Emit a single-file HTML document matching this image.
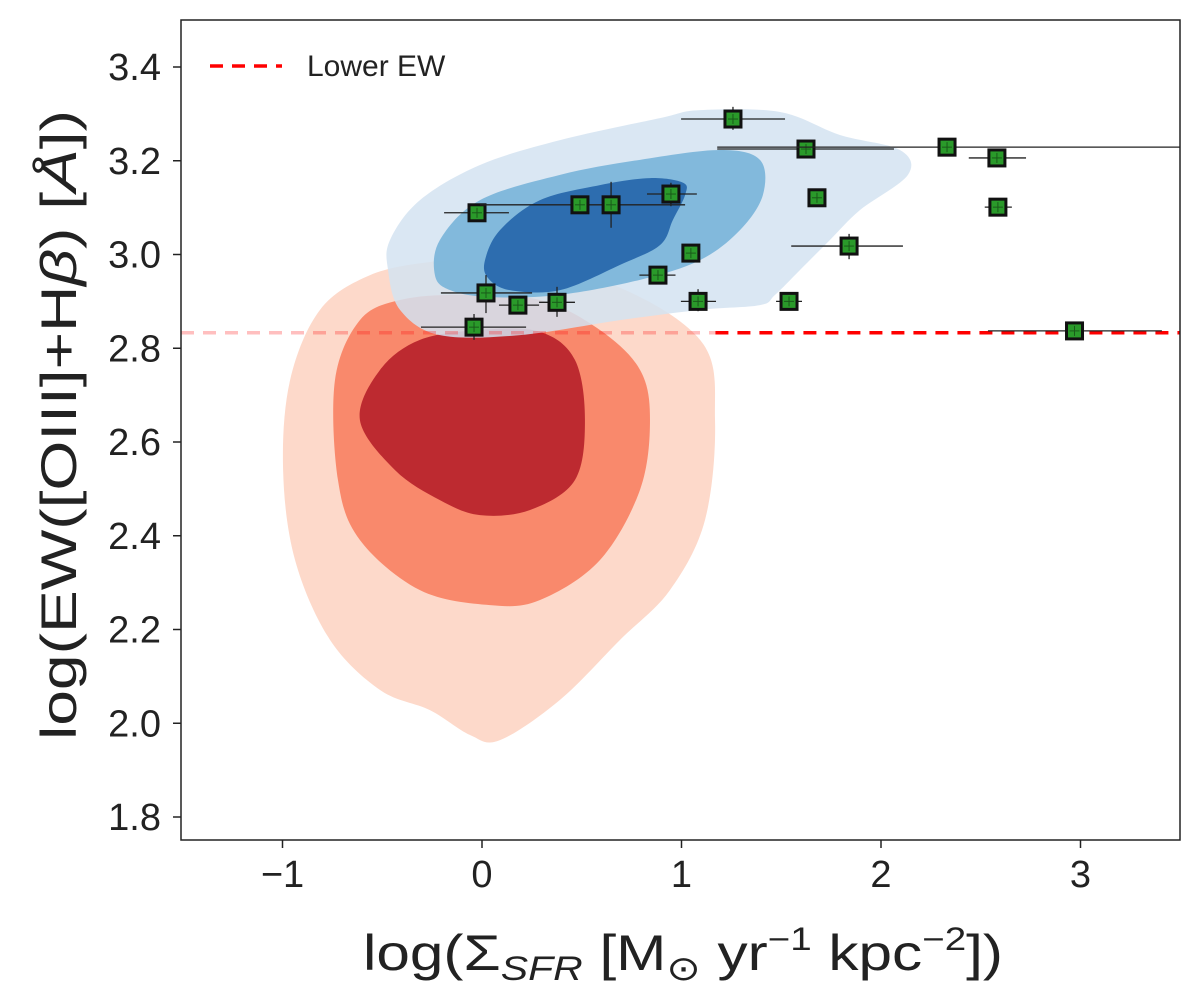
<!DOCTYPE html>
<html><head><meta charset="utf-8"><style>
body{margin:0;background:#fff;}
svg text{font-family:"Liberation Sans",sans-serif;fill:#222;}
</style></head><body>
<svg id="chart" width="1200" height="997" viewBox="0 0 1200 997" xmlns="http://www.w3.org/2000/svg" style="position:absolute;left:0;top:0">
<g id="contours"></g>
<g id="points"></g>
<g id="axes"></g>
</svg>
<script>
const xTicks=[-1,0,1,2,3];
const xTickLabels=["\u22121","0","1","2","3"];
const yTicks=[1.8,2.0,2.2,2.4,2.6,2.8,3.0,3.2,3.4];
const yTickLabels=["1.8","2.0","2.2","2.4","2.6","2.8","3.0","3.2","3.4"];
const ptX=[-0.025,0.491,0.647,0.947,1.047,0.882,1.083,0.02,0.18,0.376,-0.04,1.258,1.624,2.331,2.581,1.679,2.586,1.84,1.539,2.97];
const ptY=[3.089,3.106,3.106,3.129,3.003,2.956,2.9,2.918,2.892,2.898,2.845,3.289,3.225,3.229,3.206,3.121,3.101,3.018,2.9,2.837];
const ptXlo=[-0.19,-0.01,null,0.827,null,0.789,0.997,-0.206,0.085,0.286,-0.306,0.998,1.179,1.179,2.44,null,2.52,1.55,1.474,2.536];
const ptXhi=[0.135,1.018,null,1.077,null,0.97,1.173,0.251,0.286,0.466,0.221,1.519,2.065,3.5,2.727,null,2.656,2.11,1.604,3.408];
const ptYlo=[3.076,null,3.057,3.103,null,null,2.879,2.875,null,2.867,2.818,3.266,null,null,null,null,null,2.99,null,null];
const ptYhi=[3.102,null,3.155,3.153,null,null,2.926,2.956,null,2.931,2.873,3.315,null,null,null,null,null,3.044,null,null];
const lowerEW=2.833;
const redOuter=[[-0.962,2.732],[-0.812,2.882],[-0.561,2.956],[-0.261,2.984],[-0.01,2.984],[0.591,2.946],[1.093,2.818],[1.168,2.647],[1.118,2.434],[0.942,2.284],[0.692,2.178],[0.391,2.05],[0.09,1.964],[-0.06,1.975],[-0.261,2.028],[-0.511,2.071],[-0.762,2.178],[-0.937,2.348],[-0.997,2.54]];
const redMid=[[-0.737,2.732],[-0.612,2.86],[-0.411,2.903],[-0.11,2.914],[0.291,2.903],[0.591,2.839],[0.792,2.754],[0.842,2.647],[0.792,2.498],[0.591,2.348],[0.291,2.263],[0.04,2.252],[-0.311,2.284],[-0.612,2.391],[-0.722,2.519]];
const redInner=[[-0.612,2.647],[-0.511,2.754],[-0.311,2.818],[-0.01,2.839],[0.291,2.835],[0.466,2.775],[0.516,2.647],[0.466,2.519],[0.241,2.455],[-0.01,2.444],[-0.211,2.476],[-0.436,2.54]];
const blueLight=[[-0.461,3.031],[-0.311,3.116],[-0.01,3.191],[0.391,3.244],[0.892,3.291],[1.093,3.308],[1.494,3.304],[1.794,3.255],[2.095,3.223],[2.135,3.17],[1.895,3.095],[1.744,3.031],[1.594,2.967],[1.469,2.914],[1.393,2.892],[1.093,2.882],[0.692,2.86],[0.19,2.828],[-0.211,2.828],[-0.411,2.882],[-0.471,2.967]];
const blueMid=[[-0.236,2.956],[-0.211,3.031],[-0.01,3.116],[0.391,3.17],[0.792,3.202],[1.193,3.223],[1.393,3.202],[1.408,3.127],[1.293,3.052],[1.093,2.988],[0.792,2.946],[0.391,2.914],[0.04,2.909],[-0.16,2.924]];
const blueInner=[[0.015,2.988],[0.09,3.052],[0.291,3.116],[0.591,3.148],[0.842,3.163],[1.008,3.153],[1.018,3.127],[0.957,3.074],[0.892,3.02],[0.692,2.978],[0.391,2.924],[0.14,2.924],[0.03,2.95]];

const X0=181,X1=1180,Y0=20,Y1=840;
const sx=v=>482+(v)*199.5;
const sy=v=>67+(3.4-v)*468.75;
const NS="http://www.w3.org/2000/svg";
function mk(tag,attrs,parent){const e=document.createElementNS(NS,tag);for(const k in attrs)e.setAttribute(k,attrs[k]);parent.appendChild(e);return e;}
function smooth(pts){const p=pts.map(a=>[sx(a[0]),sy(a[1])]);const n=p.length;let d=`M${p[0][0]},${p[0][1]}`;
for(let i=0;i<n;i++){const p0=p[(i-1+n)%n],p1=p[i],p2=p[(i+1)%n],p3=p[(i+2)%n];
const c1=[p1[0]+(p2[0]-p0[0])/6,p1[1]+(p2[1]-p0[1])/6],c2=[p2[0]-(p3[0]-p1[0])/6,p2[1]-(p3[1]-p1[1])/6];
d+=`C${c1[0]},${c1[1]} ${c2[0]},${c2[1]} ${p2[0]},${p2[1]}`;}return d+"Z";}
const cg=document.getElementById('contours');
const clip=mk('clipPath',{id:'pc'},document.getElementById('chart'));mk('rect',{x:X0,y:Y0,width:X1-X0,height:Y1-Y0},clip);
cg.setAttribute('clip-path','url(#pc)');
const layers=[[redOuter,'#fdd9ca',1,'red-contour-outer'],[redMid,'#f9896c',1,'red-contour-mid'],[redInner,'#bd2a30',1,'red-contour-inner'],[blueLight,'#d3e3f1',0.85,'blue-contour-outer'],[blueMid,'#7db6da',0.95,'blue-contour-mid'],[blueInner,'#2d6daf',1,'blue-contour-inner']];
layers.forEach((L,i)=>{
 const e=mk('path',{d:smooth(L[0]),fill:L[1],'fill-opacity':L[2]},cg);
 
 
});
const lnA=mk('line',{x1:X0,x2:sx(1.17),y1:sy(lowerEW),y2:sy(lowerEW),stroke:'#f00','stroke-opacity':0.25,'stroke-width':3.5,'stroke-dasharray':'13,9'},cg);


const lnB=mk('line',{x1:sx(1.17),x2:X1,y1:sy(lowerEW),y2:sy(lowerEW),stroke:'#f00','stroke-width':3.5,'stroke-dasharray':'13,9'},cg);


const pg=document.getElementById('points');
for(let i=0;i<ptX.length;i++){
 const g=mk('g',{},pg);
 
 
 const cx=sx(ptX[i]),cy=sy(ptY[i]);
 if(ptXlo[i]!==null)mk('line',{x1:sx(ptXlo[i]),x2:Math.min(sx(ptXhi[i]),X1),y1:cy,y2:cy,stroke:'#222','stroke-width':1.3},g);
 if(ptYlo[i]!==null)mk('line',{x1:cx,x2:cx,y1:sy(ptYlo[i]),y2:sy(ptYhi[i]),stroke:'#222','stroke-width':1.3},g);
 mk('rect',{x:cx-8,y:cy-8,width:16,height:16,fill:'#2a9a2a',stroke:'#111','stroke-width':3},g);
 mk('line',{x1:cx-5,x2:cx+5,y1:cy,y2:cy,stroke:'#1a5a1a','stroke-width':1},g);
 mk('line',{x1:cx,x2:cx,y1:cy-5,y2:cy+5,stroke:'#1a5a1a','stroke-width':1},g);
}
const ag=document.getElementById('axes');
mk('rect',{x:X0,y:Y0,width:X1-X0,height:Y1-Y0,fill:'none',stroke:'#222','stroke-width':1.5},ag);
xTicks.forEach((t,i)=>{const x=sx(t);mk('line',{x1:x,x2:x,y1:Y1,y2:Y1+8,stroke:'#222','stroke-width':1.5},ag);
 const tx=mk('text',{x:x,y:Y1+47,'text-anchor':'middle','font-size':38},ag);tx.textContent=xTickLabels[i];
 
 });
yTicks.forEach((t,i)=>{const y=sy(t);mk('line',{x1:X0-8,x2:X0,y1:y,y2:y,stroke:'#222','stroke-width':1.5},ag);
 const tx=mk('text',{x:X0-20,y:y+13,'text-anchor':'end','font-size':38},ag);tx.textContent=yTickLabels[i];
 
 });
</script>
<svg style="position:absolute;left:0;top:0" width="1200" height="997">
<text x="363" y="970" font-size="50" textLength="640" lengthAdjust="spacingAndGlyphs">log(Σ<tspan font-style="italic" font-size="34" dy="10">SFR</tspan><tspan dy="-10"> [M</tspan><tspan font-size="34" dy="10">⊙</tspan><tspan dy="-10"> yr</tspan><tspan font-size="32" dy="-20">−1</tspan><tspan dy="20"> kpc</tspan><tspan font-size="32" dy="-20">−2</tspan><tspan dy="20">])</tspan></text>
<text transform="translate(76,740) rotate(-90)" font-size="50" textLength="630" lengthAdjust="spacingAndGlyphs">log(EW([OIII]+H<tspan font-style="italic">β</tspan>) [<tspan font-style="italic">Å</tspan>])</text>
<g>
<line x1="210" x2="282" y1="66" y2="66" stroke="#f00" stroke-width="3.5" stroke-dasharray="13,9"/>
<text x="307" y="76" font-size="30">Lower EW</text>
</g>
</svg>
</body></html>
